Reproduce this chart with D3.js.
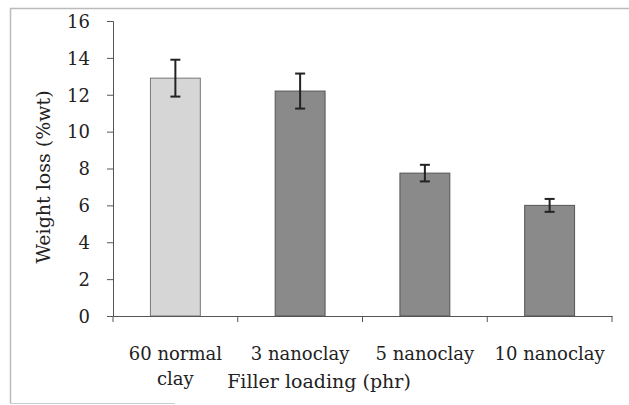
<!DOCTYPE html>
<html>
<head>
<meta charset="utf-8">
<script src="https://cdn.jsdelivr.net/npm/d3@7"></script>
<style>
  body { margin: 0; background: #fff; }
</style>
</head>
<body>
<svg id="chart" width="629" height="405"></svg>
<script>
// data
const categories = ["60 normal clay", "3 nanoclay", "5 nanoclay", "10 nanoclay"];
const labelLines = [["60 normal", "clay"], ["3 nanoclay"], ["5 nanoclay"], ["10 nanoclay"]];
const weightLoss = [12.9, 12.2, 7.75, 6.0];
const errors = [1.0, 0.95, 0.45, 0.35];
const yTicks = [0, 2, 4, 6, 8, 10, 12, 14, 16];

const FONT = "DejaVu Serif";

let margin = {top: 21, left: 113, right: 17, bottom: 89},
  width = 629 - margin.left - margin.right,
  height = 405 - margin.top - margin.bottom;

let svg = d3.select("#chart");

// outer frame (left + top, short bottom)
svg.append("line").attr("x1", 10.5).attr("x2", 10.5).attr("y1", 8).attr("y2", 403)
  .attr("stroke", "#bbb").attr("stroke-width", 1.5);
svg.append("line").attr("x1", 10).attr("x2", 629).attr("y1", 8.5).attr("y2", 8.5)
  .attr("stroke", "#bbb").attr("stroke-width", 1.5);
svg.append("line").attr("x1", 10).attr("x2", 175).attr("y1", 403.5).attr("y2", 403.5)
  .attr("stroke", "#ccc").attr("stroke-width", 1);

let g = svg.append("g").attr("transform", `translate(${margin.left}, ${margin.top})`);

let x_scale = d3.scaleBand()
  .domain(categories)
  .range([0, width])
  .paddingInner(0.6)
  .paddingOuter(0.3);

let y_scale = d3.scaleLinear()
  .domain([0, 16])
  .range([height, 0]);

// bars
g.selectAll(".bar")
  .data(weightLoss)
  .join("rect")
  .attr("class", "bar")
  .attr("x", (d, i) => x_scale(categories[i]))
  .attr("y", d => y_scale(d))
  .attr("width", x_scale.bandwidth())
  .attr("height", d => height - y_scale(d))
  .attr("fill", (d, i) => i === 0 ? "#d6d6d6" : "#8a8a8a")
  .attr("stroke", (d, i) => i === 0 ? "#777" : "#555")
  .attr("stroke-width", 1);

// error bars
let eb = g.selectAll(".err")
  .data(weightLoss)
  .join("g")
  .attr("class", "err")
  .attr("transform", (d, i) => `translate(${x_scale(categories[i]) + x_scale.bandwidth() / 2}, 0)`);

eb.append("line")
  .attr("y1", (d, i) => y_scale(d + errors[i]))
  .attr("y2", (d, i) => y_scale(d - errors[i]))
  .attr("stroke", "#222").attr("stroke-width", 2);
eb.append("line")
  .attr("x1", -5).attr("x2", 5)
  .attr("y1", (d, i) => y_scale(d + errors[i]))
  .attr("y2", (d, i) => y_scale(d + errors[i]))
  .attr("stroke", "#222").attr("stroke-width", 2);
eb.append("line")
  .attr("x1", -5).attr("x2", 5)
  .attr("y1", (d, i) => y_scale(d - errors[i]))
  .attr("y2", (d, i) => y_scale(d - errors[i]))
  .attr("stroke", "#222").attr("stroke-width", 2);

// Y-axis
let yAxis = g.append("g")
  .call(d3.axisLeft(y_scale).tickValues(yTicks).tickSize(6).tickPadding(17))
  .attr("font-family", FONT);
yAxis.select(".domain").attr("stroke", "#555");
yAxis.selectAll(".tick line").attr("stroke", "#555");
yAxis.selectAll(".tick text")
  .attr("fill", "#222")
  .attr("font-family", FONT)
  .attr("font-size", 18)
  .attr("dy", "0.35em");

// X-axis
let xAxis = g.append("g")
  .attr("transform", `translate(0, ${height})`)
  .call(d3.axisBottom(x_scale).tickSize(0).tickFormat(""));
xAxis.select(".domain").attr("stroke", "#555");
let step = x_scale.step();
g.selectAll(".xtick")
  .data(d3.range(categories.length + 1))
  .join("line")
  .attr("class", "xtick")
  .attr("x1", d => d * step).attr("x2", d => d * step)
  .attr("y1", height).attr("y2", height + 6)
  .attr("stroke", "#555");

// category labels
let catText = g.selectAll(".cat")
  .data(categories)
  .join("text")
  .attr("class", "cat")
  .attr("text-anchor", "middle")
  .attr("x", d => x_scale(d) + x_scale.bandwidth() / 2)
  .attr("y", height + 44)
  .attr("fill", "#222")
  .attr("font-family", FONT)
  .attr("font-size", 18);
catText.each(function (d, i) {
  d3.select(this).selectAll("tspan")
    .data(labelLines[i])
    .join("tspan")
    .attr("x", x_scale(d) + x_scale.bandwidth() / 2)
    .attr("dy", (t, j) => j === 0 ? 0 : 25)
    .text(t => t);
});

// X-axis label
svg.append("text")
  .attr("x", 319)
  .attr("y", 388)
  .attr("text-anchor", "middle")
  .attr("fill", "#222")
  .attr("font-family", FONT)
  .attr("font-size", 19)
  .text("Filler loading (phr)");

// Y-axis label
svg.append("text")
  .attr("transform", `translate(50, 177) rotate(-90)`)
  .attr("text-anchor", "middle")
  .attr("fill", "#222")
  .attr("font-family", FONT)
  .attr("font-size", 19)
  .text("Weight loss (%wt)");
</script>
</body>
</html>
